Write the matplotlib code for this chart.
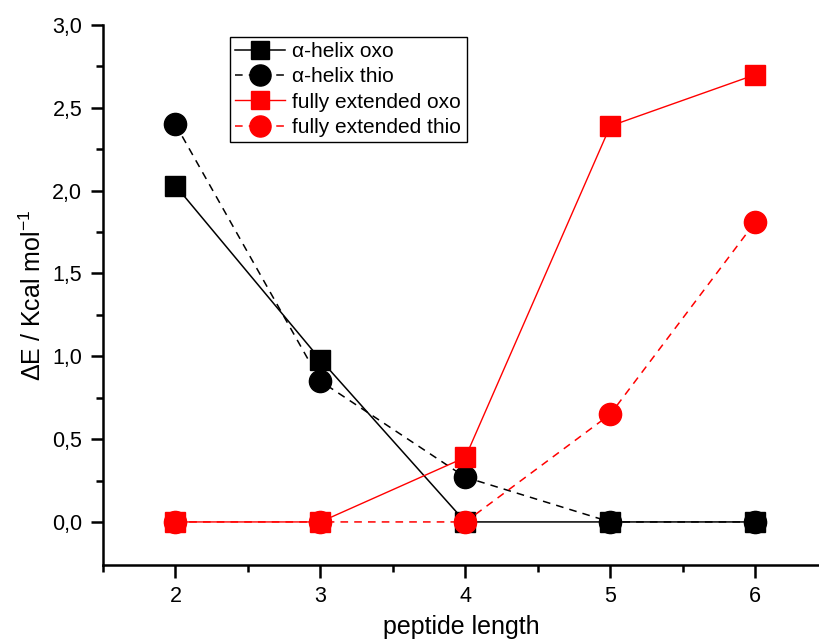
import matplotlib
matplotlib.use("Agg")
import matplotlib.pyplot as plt
from matplotlib.ticker import MultipleLocator, FixedLocator, FuncFormatter

plt.rcParams['font.family'] = ['Liberation Sans', 'DejaVu Sans']
plt.rcParams['mathtext.fontset'] = 'custom'
plt.rcParams['mathtext.rm'] = 'Liberation Sans'

# data
length = [2, 3, 4, 5, 6]
helix_oxo = [2.03, 0.98, 0.0, 0.0, 0.0]
helix_thio = [2.40, 0.85, 0.27, 0.0, 0.0]
ext_oxo = [0.0, 0.0, 0.39, 2.39, 2.70]
ext_thio = [0.0, 0.0, 0.0, 0.65, 1.81]

fig = plt.figure(figsize=(8.19, 6.43), dpi=100)
ax = fig.add_axes([103 / 819, 78 / 643, 1 - 103 / 819, 540 / 643])

ax.plot(length, helix_oxo, color='black', lw=1.1, ls='-', marker='s', ms=14,
        label='α-helix oxo')
ax.plot(length, helix_thio, color='black', lw=1.1, ls=(0, (5, 4)), marker='o', ms=16,
        label='α-helix thio')
ax.plot(length, ext_oxo, color='red', lw=1.0, ls='-', marker='s', ms=14,
        label='fully extended oxo')
ax.plot(length, ext_thio, color='red', lw=1.1, ls=(0, (5, 4)), marker='o', ms=16,
        label='fully extended thio')

ax.set_xlim(1.5, 6.44)
ax.set_ylim(-0.26, 3.0)
ax.spines['top'].set_visible(False)
ax.spines['right'].set_visible(False)
for s in ('left', 'bottom'):
    ax.spines[s].set_linewidth(1.8)

ax.xaxis.set_major_locator(MultipleLocator(1))
ax.xaxis.set_minor_locator(MultipleLocator(0.5))
ax.yaxis.set_major_locator(MultipleLocator(0.5))
ax.yaxis.set_minor_locator(FixedLocator([0.25, 0.75, 1.25, 1.75, 2.25, 2.75]))
ax.yaxis.set_major_formatter(FuncFormatter(lambda v, p: f"{v:.1f}".replace('.', ',')))
ax.tick_params(which='major', direction='out', length=9, width=1.8, labelsize=15.5, pad=6)
ax.tick_params(which='minor', direction='out', length=5, width=1.8)

ax.set_xlabel('peptide length', fontsize=18, labelpad=6)
ax.set_ylabel('ΔE / Kcal mol$^{-1}$', fontsize=18, labelpad=4)

leg = ax.legend(loc='upper left', bbox_to_anchor=(127 / 716, 1 - 12 / 540),
                fontsize=15, frameon=True, fancybox=False, edgecolor='black',
                framealpha=1, borderpad=0.25, labelspacing=0.3, handlelength=2.4,
                handletextpad=0.35, borderaxespad=0, markerscale=0.95)
leg.get_frame().set_linewidth(1.0)

fig.savefig('out.png', dpi=100)
